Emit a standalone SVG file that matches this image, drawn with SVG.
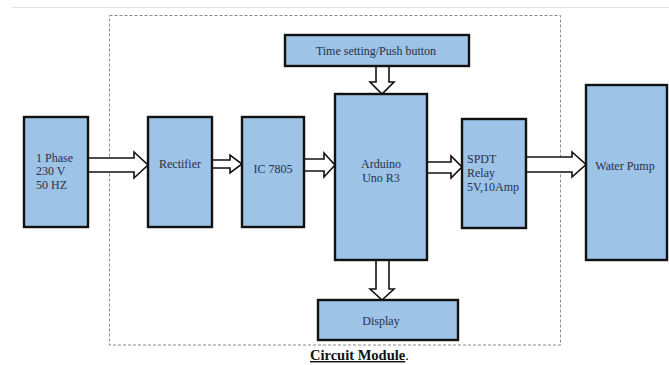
<svg xmlns="http://www.w3.org/2000/svg" width="669" height="365" viewBox="0 0 669 365">
  <style>
    .blk { fill: #9dc3e6; stroke: #111; stroke-width: 2.4; }
    .arw { fill: #fff; stroke: #111; stroke-width: 1.6; stroke-linejoin: miter; }
    .lbl { font-family: "Liberation Serif", "Times New Roman", serif; font-size: 12px; fill: #26304a; }
    .mid { text-anchor: middle; }
    .frame { fill: none; stroke: #8a8a8a; stroke-width: 1; stroke-dasharray: 3 2; }
  </style>

  <rect width="669" height="365" fill="#fff"/>
  <line x1="12" y1="7.5" x2="669" y2="7.5" stroke="#e2e2e2" stroke-width="1.2"/>

  <!-- module boundary -->
  <rect class="frame" x="109.5" y="15.5" width="451" height="329.5"/>

  <g id="connectors">
    <!-- 1 Phase -> Rectifier -->
    <polygon class="arw" points="88,158 134,158 134,152 148,165 134,178 134,172 88,172"/>
    <!-- Rectifier -> IC 7805 -->
    <polygon class="arw" points="212,160 230,160 230,155 242,164 230,173 230,168 212,168"/>
    <!-- IC 7805 -> Arduino -->
    <polygon class="arw" points="304,159 324,159 324,153 335,165 324,177 324,171 304,171"/>
    <!-- Arduino -> SPDT relay -->
    <polygon class="arw" points="427,162 451,162 451,156 462,167 451,178 451,173 427,173"/>
    <!-- SPDT relay -> Water pump -->
    <polygon class="arw" points="526,157 572,157 572,152 586,164.5 572,177 572,172 526,172"/>
    <!-- Time setting -> Arduino -->
    <polygon class="arw" points="376,66 389,66 389,82 394,82 382,94 370,82 376,82"/>
    <!-- Arduino -> Display -->
    <polygon class="arw" points="376,260 389,260 389,289 394,289 382,300 370,289 376,289"/>
  </g>

  <g id="time-setting">
    <rect class="blk" x="285" y="35" width="184" height="31"/>
    <text class="lbl mid" x="376" y="55">Time setting/Push button</text>
  </g>

  <g id="supply">
    <rect class="blk" x="24" y="117" width="64" height="110"/>
    <text class="lbl" x="36" y="162">1 Phase</text>
    <text class="lbl" x="36" y="175">230 V</text>
    <text class="lbl" x="36" y="189">50 HZ</text>
  </g>

  <g id="rectifier">
    <rect class="blk" x="148" y="117" width="64" height="110"/>
    <text class="lbl mid" x="180" y="168">Rectifier</text>
  </g>

  <g id="regulator">
    <rect class="blk" x="242" y="117" width="62" height="110"/>
    <text class="lbl mid" x="273" y="173">IC 7805</text>
  </g>

  <g id="arduino">
    <rect class="blk" x="335" y="94" width="92" height="166"/>
    <text class="lbl mid" x="381" y="168">Arduino</text>
    <text class="lbl mid" x="381" y="182">Uno R3</text>
  </g>

  <g id="relay">
    <rect class="blk" x="462" y="119" width="64" height="109"/>
    <text class="lbl" x="467" y="163">SPDT</text>
    <text class="lbl" x="467" y="177">Relay</text>
    <text class="lbl" x="467" y="191">5V,10Amp</text>
  </g>

  <g id="water-pump">
    <rect class="blk" x="586" y="85" width="81" height="175"/>
    <text class="lbl mid" x="625" y="170">Water Pump</text>
  </g>

  <g id="display">
    <rect class="blk" x="318" y="300" width="140" height="40"/>
    <text class="lbl mid" x="381" y="325">Display</text>
  </g>

  <text x="310" y="360" font-family="&quot;Liberation Serif&quot;, &quot;Times New Roman&quot;, serif" font-size="14.5" fill="#111"><tspan font-weight="bold" text-decoration="underline">Circuit Module</tspan>.</text>
</svg>
